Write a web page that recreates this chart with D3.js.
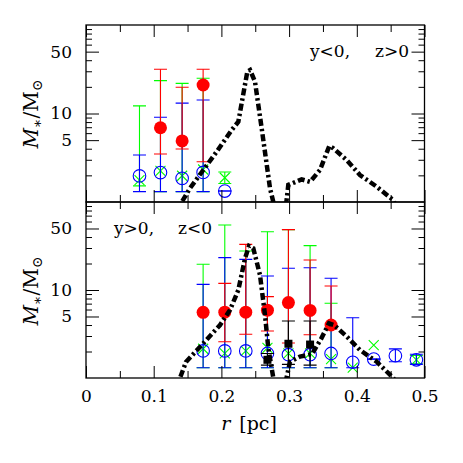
<!DOCTYPE html>
<html>
<head>
<meta charset="utf-8">
<style>
  body { margin: 0; background: #fff; }
  svg text { font-family: "DejaVu Serif", serif; font-size: 17px; fill: #000; }
  svg .tick text { font: 17px "DejaVu Serif", serif; }
  svg .tick line { stroke: #000; stroke-width: 1px; }
  svg .frame { fill: none; stroke: #000; stroke-width: 1.3px; }
  svg .curve { fill: none; stroke: #000; stroke-width: 4.5px; stroke-dasharray: 7,3,2.5,3; }
</style>
</head>
<body>
<script src="https://d3js.org/d3.v7.min.js"></script>
<script>
// radial bins (pc)
var rBins = [0.079, 0.110, 0.142, 0.173, 0.205, 0.236, 0.268, 0.299, 0.331, 0.362, 0.394, 0.425, 0.457, 0.488];

// top panel: y<0, z>0
var topRed     = [null, 6.9, 4.9, 21.0];
var topRedLo   = [null, 3.48, 3.97, 2.85];
var topRedHi   = [null, 31.6, 19.8, 31.6];
var topGreen   = [1.77, 2.25, 1.98, 2.33, 1.88];
var topGreenLo = [1.52, 1.31, 1.31, 1.31, 1.62];
var topGreenHi = [12.2, 23.5, 21.9, 25.0, 2.18];
var topBlue    = [1.97, 2.15, 1.85, 2.16, 1.33];
var topBlueLo  = [1.31, 1.31, 1.31, 1.31, 1.33];
var topBlueHi  = [3.40, 9.06, 13.1, 14.2, 1.33];
var topBlack   = [];
var topBlackLo = [];
var topBlackHi = [];

// bottom panel: y>0, z<0
var botRed     = [null, null, null, 5.57, 5.6, 5.6, 5.9, 7.2, 5.86, 4.0];
var botRedLo   = [null, null, null, null, 2.58, 3.14, 3.42, 2.5, 3.1, 3.6];
var botRedHi   = [null, null, null, null, 11.9, 33.0, 8.4, 48.5, 21.9, 11.1];
var botGreen   = [null, null, null, 2.15, 1.9, 2.03, 2.2, 1.9, 1.9, 1.64, 1.31, 2.37, null, 1.61];
var botGreenLo = [null, null, null, 1.31, 1.31, 1.31, 1.31, 1.31, 1.31, 1.31, null, null, null, 1.45];
var botGreenHi = [null, null, null, 19.6, 54.8, 27.7, 46.0, 48.5, 31.9, 7.06, null, null, null, 1.8];
var botBlue    = [null, null, null, 2.03, 2.03, 2.03, 1.9, 1.84, 1.84, 1.9, 1.51, 1.64, 1.79, 1.61];
var botBlueLo  = [null, null, null, 1.31, 1.31, 1.31, 1.31, 1.31, 1.31, 1.31, 1.31, 1.64, 1.53, 1.43];
var botBlueHi  = [null, null, null, 11.6, 23.3, 22.3, 14.4, 17.7, 17.9, 13.6, 4.84, 1.64, 2.14, 1.86];
var botBlack   = [null, null, null, null, null, null, 1.61, 2.45, 2.4];
var botBlackLo = [null, null, null, null, null, null, 1.4, 1.43, 1.4];
var botBlackHi = [null, null, null, null, null, null, 1.9, 4.45, 4.45];

// dash-dot model curves
var curveTopR = [0.135, 0.1414, 0.1536, 0.1733, 0.193, 0.2152, 0.225, 0.2383, 0.2423, 0.2496, 0.2595, 0.2718, 0.2767, 0.284,
                 0.291, 0.296, 0.2988, 0.3186, 0.3309, 0.3456, 0.3594, 0.3653, 0.3851, 0.4047, 0.4294, 0.4539, 0.46];
var curveTopM = [0.7, 1.0, 1.43, 2.30, 3.70, 6.51, 8.07, 29.7, 31.0, 22.9, 6.8, 1.43, 1.0, 0.5,
                 0.5, 1.0, 1.56, 1.80, 1.69, 2.30, 4.29, 4.05, 2.98, 2.02, 1.49, 1.05, 0.8];
var curveBotR = [0.133, 0.1388, 0.1477, 0.1733, 0.198, 0.2127, 0.225, 0.2349, 0.2408, 0.2471, 0.257, 0.2644, 0.2693, 0.2767, 0.284,
                 0.291, 0.2962, 0.3013, 0.3161, 0.3338, 0.3471, 0.3589, 0.3663, 0.3851, 0.4047, 0.4294, 0.4539, 0.46];
var curveBotM = [0.7, 1.0, 1.52, 2.48, 4.0, 5.93, 10.0, 22.9, 31.6, 29.8, 14.8, 5.2, 2.18, 1.0, 0.5,
                 0.5, 1.0, 1.53, 1.75, 1.87, 2.77, 4.18, 4.0, 2.96, 2.08, 1.53, 1.0, 0.8];

var xMajor = [0, 0.1, 0.2, 0.3, 0.4, 0.5];
var xMinor = [0.05, 0.15, 0.25, 0.35, 0.45];
var yMajor = [5, 10, 50];
var yMinor = [2, 3, 4, 6, 7, 8, 9, 20, 30, 40, 60, 70, 80, 90];

// frame edges (px)
var pLeft = 86, pRight = 424.5, pTop = 25, pMid = 202, pBottom = 378;

var svg = d3.select("body").append("svg")
    .attr("width", 463)
    .attr("height", 463);

var x = d3.scaleLinear().domain([0, 0.5]).range([pLeft, pRight]);
var yT = d3.scaleLog().domain([1, 100]).range([pMid, pTop]);
var yB = d3.scaleLog().domain([1, 100]).range([pBottom, pMid]);

function axes(y, y0, y1, showX) {
  var g = svg.append("g");
  g.append("g").attr("transform", "translate(" + pLeft + ",0)")
    .call(d3.axisLeft(y).tickValues(yMinor).tickSize(-6).tickFormat(""));
  g.append("g").attr("transform", "translate(" + pLeft + ",0)")
    .call(d3.axisLeft(y).tickValues(yMajor).tickSize(-13).tickPadding(14).tickFormat(d3.format("d")));
  g.append("g").attr("transform", "translate(" + pRight + ",0)")
    .call(d3.axisRight(y).tickValues(yMinor).tickSize(-6).tickFormat(""));
  g.append("g").attr("transform", "translate(" + pRight + ",0)")
    .call(d3.axisRight(y).tickValues(yMajor).tickSize(-13).tickFormat(""));

  g.append("g").attr("transform", "translate(0," + y1 + ")")
    .call(d3.axisBottom(x).tickValues(xMinor).tickSize(-7).tickFormat(""));
  g.append("g").attr("transform", "translate(0," + y1 + ")")
    .call(d3.axisBottom(x).tickValues(xMajor).tickSize(-12).tickPadding(12)
      .tickFormat(showX ? function (d) { return d === 0 ? "0" : d3.format(".1f")(d); } : ""));
  g.append("g").attr("transform", "translate(0," + y0 + ")")
    .call(d3.axisTop(x).tickValues(xMinor).tickSize(-7).tickFormat(""));
  g.append("g").attr("transform", "translate(0," + y0 + ")")
    .call(d3.axisTop(x).tickValues(xMajor).tickSize(-12).tickFormat(""));

  g.selectAll(".domain").remove();
  g.append("rect").classed("frame", true)
    .attr("x", pLeft).attr("y", y0)
    .attr("width", pRight - pLeft).attr("height", y1 - y0);
}

function points(vals, lo, hi) {
  return vals.map(function (v, i) {
    return { r: rBins[i], v: v, lo: lo[i], hi: hi[i] };
  }).filter(function (d) { return d.v != null; });
}

function errors(g, y, data, color) {
  var e = data.filter(function (d) { return d.lo != null; });
  var cap = 6.5;
  g.selectAll(null).data(e).enter().append("line")
    .attr("x1", function (d) { return x(d.r); })
    .attr("x2", function (d) { return x(d.r); })
    .attr("y1", function (d) { return y(d.lo); })
    .attr("y2", function (d) { return y(d.hi); })
    .style("stroke", color).style("stroke-width", "1.1px");
  ["lo", "hi"].forEach(function (k) {
    g.selectAll(null).data(e).enter().append("line")
      .attr("x1", function (d) { return x(d.r) - cap; })
      .attr("x2", function (d) { return x(d.r) + cap; })
      .attr("y1", function (d) { return y(d[k]); })
      .attr("y2", function (d) { return y(d[k]); })
      .style("stroke", color).style("stroke-width", "1.1px");
  });
}

function panel(y, y0, y1, s, curveR, curveM, id) {
  svg.append("clipPath").attr("id", id)
    .append("rect").attr("x", pLeft).attr("y", y0)
    .attr("width", pRight - pLeft).attr("height", y1 - y0);
  var g = svg.append("g").attr("clip-path", "url(#" + id + ")");

  // green crosses
  var gr = points(s.green, s.greenLo, s.greenHi);
  errors(g, y, gr, "#00ff00");
  g.selectAll(null).data(gr).enter().append("path")
    .attr("d", function (d) {
      var cx = x(d.r), cy = y(d.v), h = 5;
      return "M" + (cx - h) + "," + (cy - h) + "L" + (cx + h) + "," + (cy + h) +
             "M" + (cx - h) + "," + (cy + h) + "L" + (cx + h) + "," + (cy - h);
    })
    .style("stroke", "#00ff00").style("stroke-width", "1.1px");

  // blue open circles
  var bl = points(s.blue, s.blueLo, s.blueHi);
  errors(g, y, bl, "#0000ff");
  g.selectAll(null).data(bl).enter().append("circle")
    .attr("cx", function (d) { return x(d.r); })
    .attr("cy", function (d) { return y(d.v); })
    .attr("r", 6.3)
    .style("fill", "none").style("stroke", "#0000ff").style("stroke-width", "1.1px");

  // red filled circles
  var rd = points(s.red, s.redLo, s.redHi);
  errors(g, y, rd, "#ff0000");
  g.selectAll(null).data(rd).enter().append("circle")
    .attr("cx", function (d) { return x(d.r); })
    .attr("cy", function (d) { return y(d.v); })
    .attr("r", 6.5)
    .style("fill", "#ff0000");

  // black squares
  var bk = points(s.black, s.blackLo, s.blackHi);
  errors(g, y, bk, "#000");
  g.selectAll(null).data(bk).enter().append("rect")
    .attr("x", function (d) { return x(d.r) - 4; })
    .attr("y", function (d) { return y(d.v) - 4; })
    .attr("width", 8).attr("height", 8)
    .style("fill", "#000");

  // model curve
  var line = d3.line()
    .x(function (d, i) { return x(curveR[i]); })
    .y(function (d) { return y(d); });
  g.append("path").classed("curve", true).attr("d", line(curveM));
}

panel(yT, pTop, pMid, {
  red: topRed, redLo: topRedLo, redHi: topRedHi,
  green: topGreen, greenLo: topGreenLo, greenHi: topGreenHi,
  blue: topBlue, blueLo: topBlueLo, blueHi: topBlueHi,
  black: topBlack, blackLo: topBlackLo, blackHi: topBlackHi
}, curveTopR, curveTopM, "clipTop");

panel(yB, pMid, pBottom, {
  red: botRed, redLo: botRedLo, redHi: botRedHi,
  green: botGreen, greenLo: botGreenLo, greenHi: botGreenHi,
  blue: botBlue, blueLo: botBlueLo, blueHi: botBlueHi,
  black: botBlack, blackLo: botBlackLo, blackHi: botBlackHi
}, curveBotR, curveBotM, "clipBot");

axes(yT, pTop, pMid, false);
axes(yB, pMid, pBottom, true);

// panel labels
svg.append("text").attr("x", 310).attr("y", 57).text("y<0,");
svg.append("text").attr("x", 375).attr("y", 57).text("z>0");
svg.append("text").attr("x", 114).attr("y", 234).text("y>0,");
svg.append("text").attr("x", 178).attr("y", 234).text("z<0");

// y axis titles
function yTitle(cy) {
  var t = svg.append("text")
      .attr("transform", "translate(38," + cy + ") rotate(-90)")
      .attr("text-anchor", "middle")
      .style("font-size", "20px");
  t.append("tspan").style("font-style", "italic").text("M");
  t.append("tspan").attr("dy", 4).style("font-size", "14px").text("\u2217");
  t.append("tspan").attr("dy", -4).text("/M");
  t.append("tspan").attr("dy", 4).style("font-size", "14px").text("\u2299");
}
yTitle(114);
yTitle(291);

// x axis title
var xt = svg.append("text").attr("x", 249).attr("y", 430).attr("text-anchor", "middle")
    .style("font-size", "19px");
xt.append("tspan").style("font-style", "italic").text("r");
xt.append("tspan").attr("dx", 9).text("[pc]");
</script>
</body>
</html>
